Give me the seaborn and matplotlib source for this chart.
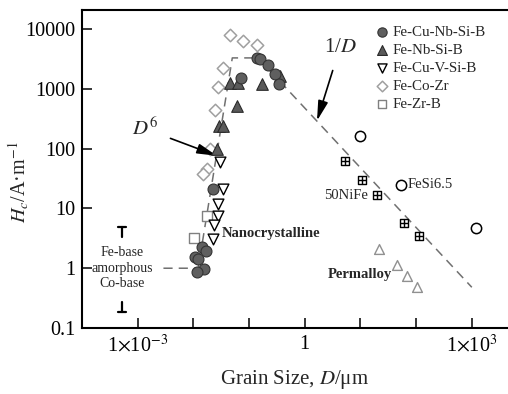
import numpy as np
import pandas as pd
import matplotlib
matplotlib.use("Agg")
import matplotlib.pyplot as plt
import seaborn as sns


# Data --------------------------------------------------------------------------------

# Fe-Cu-Nb-Si-B (filled circles)
fecunb_d = [0.139, 0.157, 0.219, 0.292, 0.344, 0.0716, 0.0225, 0.0143, 0.0168, 0.0107, 0.0121, 0.0155, 0.0116]
fecunb_h = [3285, 3160, 2510, 1780, 1210, 1525, 21.5, 2.24, 1.92, 1.52, 1.41, 0.96, 0.86]

# Fe-Nb-Si-B (filled triangles)
fenb_d = [0.0454, 0.063, 0.171, 0.359, 0.0606, 0.0288, 0.034, 0.0265]
fenb_h = [1259, 1259, 1211, 1647, 521, 242, 242, 100]

# Fe-Cu-V-Si-B (open down triangles)
fecuv_d = [0.030, 0.034, 0.0277, 0.0277, 0.0234, 0.0225]
fecuv_h = [60.7, 21.5, 11.7, 7.6, 5.2, 3.04]

# Fe-Co-Zr (open diamonds)
fecozr_d = [0.0454, 0.0777, 0.139, 0.034, 0.0277, 0.0244, 0.0199, 0.0175, 0.0149]
fecozr_h = [7940, 6310, 5410, 2240, 1080, 447, 100, 46.4, 38.3]

# Fe-Zr-B (open squares)
fezrb_d = [0.0175, 0.0102]
fezrb_h = [7.36, 3.16]

# 50NiFe (crossed squares)
nife_d = [5.27, 10.5, 19.5, 61.2, 112]
nife_h = [63, 30.4, 16.5, 5.78, 3.42]

# FeSi6.5 (open circles)
fesi_d = [9.8, 53.3, 1186]
fesi_h = [165, 25.1, 4.7]

# Permalloy (open grey triangles)
perm_d = [21.5, 45.8, 67.4, 102]
perm_h = [2.07, 1.12, 0.74, 0.49]

# guide line: amorphous level, D^6 rise, plateau, 1/D fall
guide_d = [0.0029, 0.0122, 0.05, 0.145, 1000]
guide_h = [1, 1, 3300, 3300, 0.48]


# Plot ---------------------------------------------------------------------------------

sns.set_style("ticks")
plt.rcParams["font.family"] = ["Liberation Serif", "DejaVu Serif"]
plt.rcParams["mathtext.fontset"] = "stix"

fig = plt.figure(figsize=(5.08, 3.94), dpi=100)
ax = fig.add_axes([82 / 508, 66 / 394, 426 / 508, 318 / 394])
ax.set_xscale("log")
ax.set_yscale("log")

sns.lineplot(x=guide_d, y=guide_h, sort=False, color="#707070", lw=1.1,
             dashes=False, linestyle=(0, (6, 4)), ax=ax)

def pts(d, h):
    return pd.DataFrame({"d": d, "h": h})

sns.scatterplot(data=pts(fecozr_d, fecozr_h), x="d", y="h", marker="D", s=40,
                facecolor="white", edgecolor="#a0a0a0", linewidth=1.1, ax=ax, label="Fe-Co-Zr", zorder=3)
sns.scatterplot(data=pts(fezrb_d, fezrb_h), x="d", y="h", marker="s", s=45,
                facecolor="white", edgecolor="#808080", linewidth=1.0, ax=ax, label="Fe-Zr-B", zorder=3)
sns.scatterplot(data=pts(fecuv_d, fecuv_h), x="d", y="h", marker="v", s=60,
                facecolor="white", edgecolor="black", linewidth=1.0, ax=ax, label="Fe-Cu-V-Si-B", zorder=3)
sns.scatterplot(data=pts(fenb_d, fenb_h), x="d", y="h", marker="^", s=70,
                facecolor="#5a5a5a", edgecolor="#2a2a2a", linewidth=0.8, ax=ax, label="Fe-Nb-Si-B", zorder=4)
sns.scatterplot(data=pts(fecunb_d, fecunb_h), x="d", y="h", marker="o", s=62,
                facecolor="#5f5f5f", edgecolor="#333333", linewidth=0.8, ax=ax, label="Fe-Cu-Nb-Si-B", zorder=4)

sns.scatterplot(data=pts(nife_d, nife_h), x="d", y="h", marker="s", s=40,
                facecolor="white", edgecolor="black", linewidth=1.0, ax=ax, legend=False, zorder=3)
sns.scatterplot(data=pts(nife_d, nife_h), x="d", y="h", marker="+", s=40,
                color="black", linewidth=1.0, ax=ax, legend=False, zorder=4)
sns.scatterplot(data=pts(fesi_d, fesi_h), x="d", y="h", marker="o", s=55,
                facecolor="white", edgecolor="black", linewidth=1.1, ax=ax, legend=False, zorder=3)
sns.scatterplot(data=pts(perm_d, perm_h), x="d", y="h", marker="^", s=50,
                facecolor="white", edgecolor="#909090", linewidth=1.0, ax=ax, legend=False, zorder=3)

ax.set_xlim(1e-4, 10 ** 3.65)
ax.set_ylim(0.1, 10 ** 4.32)

ax.set_xticks([10.0 ** k for k in range(-3, 4)])
ax.set_xticklabels([r"1$\times$10$^{-3}$", "", "", "1", "", "", r"1$\times$10$^{3}$"])
ax.set_yticks([0.1, 1, 10, 100, 1000, 10000])
ax.set_yticklabels(["0.1", "1", "10", "100", "1000", "10000"])
ax.minorticks_off()
ax.tick_params(direction="in", length=7, width=1.1, labelsize=14.5, pad=5, colors="black")
for side in ["left", "bottom", "top"]:
    ax.spines[side].set_linewidth(1.5)
    ax.spines[side].set_color("black")
ax.spines["right"].set_visible(False)

ax.set_xlabel(r"Grain Size, $D$/μm", fontsize=15, labelpad=8)
ax.set_ylabel(r"$H_{c}$/A·m$^{-1}$", fontsize=14.5)
ax.yaxis.set_label_coords(-0.12, 0.46)

# annotations
ax.text(5.2e-4, 1.0, "Fe-base\namorphous\nCo-base", ha="center", va="center",
        fontsize=10, linespacing=1.25)
ax.plot([4.4e-4, 6.1e-4], [4.9, 4.9], color="black", lw=1.6)
ax.plot([5.2e-4, 5.2e-4], [4.9, 3.3], color="black", lw=1.6)
ax.plot([4.4e-4, 6.1e-4], [0.187, 0.187], color="black", lw=1.6)
ax.plot([5.2e-4, 5.2e-4], [0.187, 0.27], color="black", lw=1.6)

ax.text(0.0322, 3.88, "Nanocrystalline", fontsize=10.5, fontweight="bold", va="center")
ax.text(2.61, 0.785, "Permalloy", fontsize=10.5, fontweight="bold", va="center")
ax.text(13.5, 16.5, "50NiFe", fontsize=10.5, ha="right", va="center")
ax.text(70, 25.1, "FeSi6.5", fontsize=10.5, ha="left", va="center")

ax.annotate(r"1/$D$", xy=(1.66, 293), xytext=(4.3, 5000), fontsize=15,
            ha="center", va="center",
            arrowprops=dict(arrowstyle="-|>,head_length=0.8,head_width=0.2", color="black", lw=1.2,
                            shrinkA=8, shrinkB=0))
ax.annotate(r"$D^{6}$", xy=(0.0265, 76), xytext=(0.00135, 215), fontsize=15,
            ha="center", va="center",
            arrowprops=dict(arrowstyle="-|>,head_length=0.8,head_width=0.2", color="black", lw=1.2,
                            shrinkA=7, shrinkB=0))

handles, labels = ax.get_legend_handles_labels()
order = ["Fe-Cu-Nb-Si-B", "Fe-Nb-Si-B", "Fe-Cu-V-Si-B", "Fe-Co-Zr", "Fe-Zr-B"]
hmap = dict(zip(labels, handles))
ax.legend([hmap[k] for k in order], order, loc="upper left", bbox_to_anchor=(0.668, 0.97),
          frameon=False, fontsize=10.8, handletextpad=0.1, labelspacing=0.3,
          borderaxespad=0, handlelength=1.2, markerscale=0.85)

fig.savefig("out.png", dpi=100)
